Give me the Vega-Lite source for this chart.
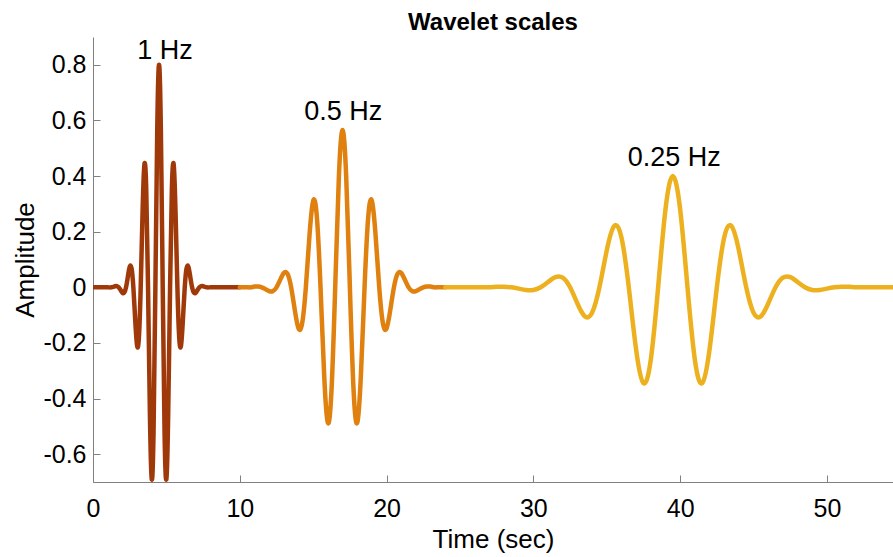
{
  "$schema": "https://vega.github.io/schema/vega-lite/v6.json",
  "width": 800,
  "height": 445,
  "autosize": {"type": "none"},
  "padding": {"left": 93, "top": 37, "right": 0, "bottom": 75},
  "background": "white",
  "config": {
    "view": {"stroke": null},
    "font": "Liberation Sans",
    "axis": {
      "grid": false,
      "domainColor": "#808080",
      "domainWidth": 1,
      "tickColor": "#808080",
      "tickWidth": 1,
      "tickSize": -7,
      "labelColor": "black",
      "titleColor": "black",
      "labelFont": "Liberation Sans",
      "titleFont": "Liberation Sans",
      "labelFontSize": 25,
      "titleFontSize": 26,
      "titleFontWeight": "normal",
      "labelFlush": false,
      "labelOverlap": false,
      "labelBound": false
    }
  },
  "title": {
    "text": "Wavelet scales",
    "font": "Liberation Sans",
    "fontSize": 24,
    "fontWeight": "bold",
    "color": "black",
    "anchor": "middle",
    "frame": "group",
    "baseline": "alphabetic",
    "offset": 10,
    "dy": 27
  },
  "datasets": {
    "waves": [
      {"w": "1 Hz", "t": 0, "a": 0},
      {"w": "1 Hz", "t": 0.5, "a": 0},
      {"w": "1 Hz", "t": 1.0, "a": 0},
      {"w": "1 Hz", "t": 1.25, "a": 0},
      {"w": "1 Hz", "t": 1.5, "a": 0.00368},
      {"w": "1 Hz", "t": 1.625, "a": 0.00404},
      {"w": "1 Hz", "t": 1.75, "a": 0},
      {"w": "1 Hz", "t": 1.875, "a": -0.00918},
      {"w": "1 Hz", "t": 2.0, "a": -0.01905},
      {"w": "1 Hz", "t": 2.125, "a": -0.0194},
      {"w": "1 Hz", "t": 2.25, "a": 0},
      {"w": "1 Hz", "t": 2.375, "a": 0.03802},
      {"w": "1 Hz", "t": 2.5, "a": 0.07316},
      {"w": "1 Hz", "t": 2.625, "a": 0.06911},
      {"w": "1 Hz", "t": 2.75, "a": 0},
      {"w": "1 Hz", "t": 2.875, "a": -0.11662},
      {"w": "1 Hz", "t": 3.0, "a": -0.20834},
      {"w": "1 Hz", "t": 3.125, "a": -0.18263},
      {"w": "1 Hz", "t": 3.25, "a": 0},
      {"w": "1 Hz", "t": 3.375, "a": 0.26539},
      {"w": "1 Hz", "t": 3.5, "a": 0.43993},
      {"w": "1 Hz", "t": 3.625, "a": 0.35789},
      {"w": "1 Hz", "t": 3.75, "a": 0},
      {"w": "1 Hz", "t": 3.875, "a": -0.44786},
      {"w": "1 Hz", "t": 4.0, "a": -0.68891},
      {"w": "1 Hz", "t": 4.125, "a": -0.52006},
      {"w": "1 Hz", "t": 4.25, "a": 0},
      {"w": "1 Hz", "t": 4.375, "a": 0.56042},
      {"w": "1 Hz", "t": 4.5, "a": 0.8},
      {"w": "1 Hz", "t": 4.625, "a": 0.56042},
      {"w": "1 Hz", "t": 4.75, "a": 0},
      {"w": "1 Hz", "t": 4.875, "a": -0.52006},
      {"w": "1 Hz", "t": 5.0, "a": -0.68891},
      {"w": "1 Hz", "t": 5.125, "a": -0.44786},
      {"w": "1 Hz", "t": 5.25, "a": 0},
      {"w": "1 Hz", "t": 5.375, "a": 0.35789},
      {"w": "1 Hz", "t": 5.5, "a": 0.43993},
      {"w": "1 Hz", "t": 5.625, "a": 0.26539},
      {"w": "1 Hz", "t": 5.75, "a": 0},
      {"w": "1 Hz", "t": 5.875, "a": -0.18263},
      {"w": "1 Hz", "t": 6.0, "a": -0.20834},
      {"w": "1 Hz", "t": 6.125, "a": -0.11662},
      {"w": "1 Hz", "t": 6.25, "a": 0},
      {"w": "1 Hz", "t": 6.375, "a": 0.06911},
      {"w": "1 Hz", "t": 6.5, "a": 0.07316},
      {"w": "1 Hz", "t": 6.625, "a": 0.03802},
      {"w": "1 Hz", "t": 6.75, "a": 0},
      {"w": "1 Hz", "t": 6.875, "a": -0.0194},
      {"w": "1 Hz", "t": 7.0, "a": -0.01905},
      {"w": "1 Hz", "t": 7.125, "a": -0.00918},
      {"w": "1 Hz", "t": 7.25, "a": 0},
      {"w": "1 Hz", "t": 7.375, "a": 0.00404},
      {"w": "1 Hz", "t": 7.5, "a": 0.00368},
      {"w": "1 Hz", "t": 7.75, "a": 0},
      {"w": "1 Hz", "t": 8.0, "a": 0},
      {"w": "1 Hz", "t": 8.5, "a": 0},
      {"w": "1 Hz", "t": 9.0, "a": 0},
      {"w": "1 Hz", "t": 9.5, "a": 0},
      {"w": "1 Hz", "t": 10.0, "a": 0},

      {"w": "0.5 Hz", "t": 10.0, "a": 0},
      {"w": "0.5 Hz", "t": 10.5, "a": 0},
      {"w": "0.5 Hz", "t": 10.75, "a": 0},
      {"w": "0.5 Hz", "t": 11.0, "a": 0.0026},
      {"w": "0.5 Hz", "t": 11.25, "a": 0.00286},
      {"w": "0.5 Hz", "t": 11.5, "a": 0},
      {"w": "0.5 Hz", "t": 11.75, "a": -0.00649},
      {"w": "0.5 Hz", "t": 12.0, "a": -0.01347},
      {"w": "0.5 Hz", "t": 12.25, "a": -0.01372},
      {"w": "0.5 Hz", "t": 12.5, "a": 0},
      {"w": "0.5 Hz", "t": 12.75, "a": 0.02688},
      {"w": "0.5 Hz", "t": 13.0, "a": 0.05173},
      {"w": "0.5 Hz", "t": 13.25, "a": 0.04887},
      {"w": "0.5 Hz", "t": 13.5, "a": 0},
      {"w": "0.5 Hz", "t": 13.75, "a": -0.08247},
      {"w": "0.5 Hz", "t": 14.0, "a": -0.14732},
      {"w": "0.5 Hz", "t": 14.25, "a": -0.12914},
      {"w": "0.5 Hz", "t": 14.5, "a": 0},
      {"w": "0.5 Hz", "t": 14.75, "a": 0.18766},
      {"w": "0.5 Hz", "t": 15.0, "a": 0.31108},
      {"w": "0.5 Hz", "t": 15.25, "a": 0.25307},
      {"w": "0.5 Hz", "t": 15.5, "a": 0},
      {"w": "0.5 Hz", "t": 15.75, "a": -0.31669},
      {"w": "0.5 Hz", "t": 16.0, "a": -0.48714},
      {"w": "0.5 Hz", "t": 16.25, "a": -0.36774},
      {"w": "0.5 Hz", "t": 16.5, "a": 0},
      {"w": "0.5 Hz", "t": 16.75, "a": 0.39628},
      {"w": "0.5 Hz", "t": 17.0, "a": 0.56569},
      {"w": "0.5 Hz", "t": 17.25, "a": 0.39628},
      {"w": "0.5 Hz", "t": 17.5, "a": 0},
      {"w": "0.5 Hz", "t": 17.75, "a": -0.36774},
      {"w": "0.5 Hz", "t": 18.0, "a": -0.48714},
      {"w": "0.5 Hz", "t": 18.25, "a": -0.31669},
      {"w": "0.5 Hz", "t": 18.5, "a": 0},
      {"w": "0.5 Hz", "t": 18.75, "a": 0.25307},
      {"w": "0.5 Hz", "t": 19.0, "a": 0.31108},
      {"w": "0.5 Hz", "t": 19.25, "a": 0.18766},
      {"w": "0.5 Hz", "t": 19.5, "a": 0},
      {"w": "0.5 Hz", "t": 19.75, "a": -0.12914},
      {"w": "0.5 Hz", "t": 20.0, "a": -0.14732},
      {"w": "0.5 Hz", "t": 20.25, "a": -0.08247},
      {"w": "0.5 Hz", "t": 20.5, "a": 0},
      {"w": "0.5 Hz", "t": 20.75, "a": 0.04887},
      {"w": "0.5 Hz", "t": 21.0, "a": 0.05173},
      {"w": "0.5 Hz", "t": 21.25, "a": 0.02688},
      {"w": "0.5 Hz", "t": 21.5, "a": 0},
      {"w": "0.5 Hz", "t": 21.75, "a": -0.01372},
      {"w": "0.5 Hz", "t": 22.0, "a": -0.01347},
      {"w": "0.5 Hz", "t": 22.25, "a": -0.00649},
      {"w": "0.5 Hz", "t": 22.5, "a": 0},
      {"w": "0.5 Hz", "t": 22.75, "a": 0.00286},
      {"w": "0.5 Hz", "t": 23.0, "a": 0.0026},
      {"w": "0.5 Hz", "t": 23.25, "a": 0},
      {"w": "0.5 Hz", "t": 23.5, "a": 0},
      {"w": "0.5 Hz", "t": 24.0, "a": 0},

      {"w": "0.25 Hz", "t": 24.0, "a": 0},
      {"w": "0.25 Hz", "t": 25.0, "a": 0},
      {"w": "0.25 Hz", "t": 26.0, "a": 0},
      {"w": "0.25 Hz", "t": 26.5, "a": 0},
      {"w": "0.25 Hz", "t": 27.0, "a": 0},
      {"w": "0.25 Hz", "t": 27.5, "a": 0.00184},
      {"w": "0.25 Hz", "t": 28.0, "a": 0.00202},
      {"w": "0.25 Hz", "t": 28.5, "a": 0},
      {"w": "0.25 Hz", "t": 29.0, "a": -0.00459},
      {"w": "0.25 Hz", "t": 29.5, "a": -0.00952},
      {"w": "0.25 Hz", "t": 30.0, "a": -0.0097},
      {"w": "0.25 Hz", "t": 30.5, "a": 0},
      {"w": "0.25 Hz", "t": 31.0, "a": 0.01901},
      {"w": "0.25 Hz", "t": 31.5, "a": 0.03658},
      {"w": "0.25 Hz", "t": 32.0, "a": 0.03456},
      {"w": "0.25 Hz", "t": 32.5, "a": 0},
      {"w": "0.25 Hz", "t": 33.0, "a": -0.05831},
      {"w": "0.25 Hz", "t": 33.5, "a": -0.10417},
      {"w": "0.25 Hz", "t": 34.0, "a": -0.09132},
      {"w": "0.25 Hz", "t": 34.5, "a": 0},
      {"w": "0.25 Hz", "t": 35.0, "a": 0.1327},
      {"w": "0.25 Hz", "t": 35.5, "a": 0.21996},
      {"w": "0.25 Hz", "t": 36.0, "a": 0.17894},
      {"w": "0.25 Hz", "t": 36.5, "a": 0},
      {"w": "0.25 Hz", "t": 37.0, "a": -0.22393},
      {"w": "0.25 Hz", "t": 37.5, "a": -0.34446},
      {"w": "0.25 Hz", "t": 38.0, "a": -0.26003},
      {"w": "0.25 Hz", "t": 38.5, "a": 0},
      {"w": "0.25 Hz", "t": 39.0, "a": 0.28021},
      {"w": "0.25 Hz", "t": 39.5, "a": 0.4},
      {"w": "0.25 Hz", "t": 40.0, "a": 0.28021},
      {"w": "0.25 Hz", "t": 40.5, "a": 0},
      {"w": "0.25 Hz", "t": 41.0, "a": -0.26003},
      {"w": "0.25 Hz", "t": 41.5, "a": -0.34446},
      {"w": "0.25 Hz", "t": 42.0, "a": -0.22393},
      {"w": "0.25 Hz", "t": 42.5, "a": 0},
      {"w": "0.25 Hz", "t": 43.0, "a": 0.17894},
      {"w": "0.25 Hz", "t": 43.5, "a": 0.21996},
      {"w": "0.25 Hz", "t": 44.0, "a": 0.1327},
      {"w": "0.25 Hz", "t": 44.5, "a": 0},
      {"w": "0.25 Hz", "t": 45.0, "a": -0.09132},
      {"w": "0.25 Hz", "t": 45.5, "a": -0.10417},
      {"w": "0.25 Hz", "t": 46.0, "a": -0.05831},
      {"w": "0.25 Hz", "t": 46.5, "a": 0},
      {"w": "0.25 Hz", "t": 47.0, "a": 0.03456},
      {"w": "0.25 Hz", "t": 47.5, "a": 0.03658},
      {"w": "0.25 Hz", "t": 48.0, "a": 0.01901},
      {"w": "0.25 Hz", "t": 48.5, "a": 0},
      {"w": "0.25 Hz", "t": 49.0, "a": -0.0097},
      {"w": "0.25 Hz", "t": 49.5, "a": -0.00952},
      {"w": "0.25 Hz", "t": 50.0, "a": -0.00459},
      {"w": "0.25 Hz", "t": 50.5, "a": 0},
      {"w": "0.25 Hz", "t": 51.0, "a": 0.00202},
      {"w": "0.25 Hz", "t": 51.5, "a": 0.00184},
      {"w": "0.25 Hz", "t": 52.0, "a": 0},
      {"w": "0.25 Hz", "t": 52.5, "a": 0},
      {"w": "0.25 Hz", "t": 53.0, "a": 0},
      {"w": "0.25 Hz", "t": 54.0, "a": 0},
      {"w": "0.25 Hz", "t": 54.5, "a": 0}
    ],
    "labels": [
      {"label": "1 Hz", "t": 4.9, "a": 0.821},
      {"label": "0.5 Hz", "t": 17.05, "a": 0.601},
      {"label": "0.25 Hz", "t": 39.6, "a": 0.437}
    ]
  },
  "layer": [
    {
      "data": {"name": "waves"},
      "mark": {
        "type": "line",
        "interpolate": "natural",
        "strokeWidth": 4.5,
        "strokeJoin": "round",
        "strokeCap": "round",
        "clip": true
      },
      "encoding": {
        "x": {
          "field": "t",
          "type": "quantitative",
          "scale": {"domain": [0, 54.5], "nice": false, "zero": false},
          "axis": {
            "title": "Time (sec)",
            "values": [0, 10, 20, 30, 40, 50],
            "labelPadding": 41,
            "labelBaseline": "alphabetic",
            "titleY": 65,
            "titleBaseline": "alphabetic"
          }
        },
        "y": {
          "field": "a",
          "type": "quantitative",
          "scale": {"domain": [-0.7, 0.9], "nice": false, "zero": false},
          "axis": {
            "title": "Amplitude",
            "values": [-0.6, -0.4, -0.2, 0, 0.2, 0.4, 0.6, 0.8],
            "labelPadding": 14,
            "labelExpr": "replace(format(datum.value, '.1~f'), '\u2212', '-')",
            "titleX": -60,
            "titleBaseline": "alphabetic"
          }
        },
        "color": {
          "field": "w",
          "type": "nominal",
          "scale": {
            "domain": ["1 Hz", "0.5 Hz", "0.25 Hz"],
            "range": ["#A0390A", "#DF800F", "#EDB120"]
          },
          "legend": null
        }
      }
    },
    {
      "data": {"name": "labels"},
      "mark": {
        "type": "text",
        "font": "Liberation Sans",
        "fontSize": 27,
        "color": "black",
        "align": "center",
        "baseline": "alphabetic"
      },
      "encoding": {
        "x": {"field": "t", "type": "quantitative"},
        "y": {"field": "a", "type": "quantitative"},
        "text": {"field": "label"}
      }
    }
  ]
}
